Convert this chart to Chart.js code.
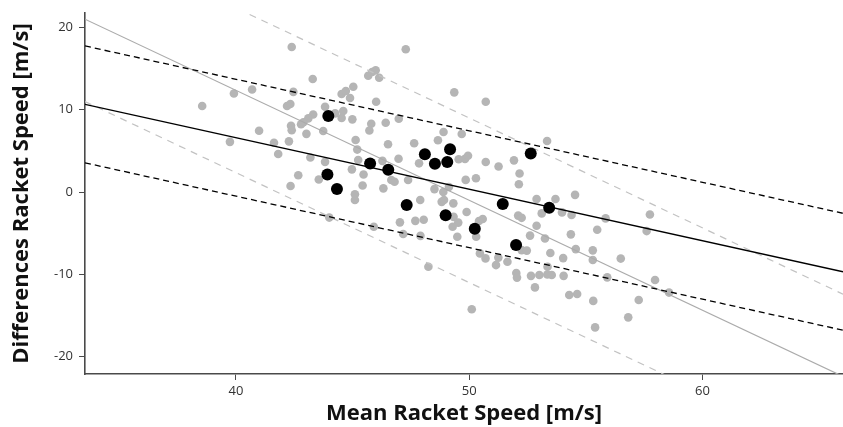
<!DOCTYPE html>
<html>
<head>
<meta charset="utf-8">
<script src="https://cdn.jsdelivr.net/npm/chart.js@4.4.1/dist/chart.umd.min.js"></script>
<style>
  html, body { margin: 0; padding: 0; background: #fff; }
  #c { display: block; }
</style>
</head>
<body>
<canvas id="c" width="843" height="427"></canvas>
<script>
// ---- data ----
const meanGray = [
  42.39,38.55,39.91,40.69,43.29,42.46,42.19,42.33,43.82,44.53,44.53,44.60,44.25,43.31,43.10,42.89,42.79,42.36,42.39,43.02,43.74,40.99,39.74,41.63,42.27,41.81,43.19,43.82,42.67,43.55,42.34,44.00,
  47.28,45.67,45.84,45.99,46.14,44.71,45.03,44.89,46.01,49.36,50.71,44.99,45.80,45.72,46.42,46.98,45.13,45.20,45.24,46.52,47.64,48.66,48.90,49.68,44.97,45.47,45.43,46.28,46.97,46.66,46.80,47.38,47.85,49.55,49.82,49.95,50.71,49.85,50.29,51.26,51.92,52.16,52.13,53.34,46.32,
  45.10,45.10,47.90,48.51,48.89,49.13,48.82,48.92,49.32,49.89,49.33,49.53,49.29,49.49,50.42,50.58,50.30,47.03,47.69,48.05,45.91,47.17,47.91,52.10,52.25,50.46,50.70,51.15,51.25,51.64,52.02,52.05,48.25,50.11,
  52.89,53.70,54.54,53.11,53.98,54.39,55.85,57.75,57.61,55.49,52.89,52.61,53.25,54.36,54.57,55.30,55.30,56.50,53.48,54.03,52.25,52.47,53.36,52.65,53.01,53.35,53.54,54.05,52.82,55.92,57.97,58.57,54.29,54.63,55.32,57.27,56.82,55.40
];
const diffGray = [
  17.62,10.45,11.97,12.45,13.73,12.17,10.45,10.69,10.36,11.91,8.99,9.84,9.56,9.42,8.95,8.47,8.23,8.04,7.50,7.07,7.41,7.44,6.10,5.99,6.16,4.62,4.19,3.67,2.04,1.52,0.73,-3.10,
  17.35,14.12,14.58,14.80,13.89,12.27,12.79,11.42,10.97,12.11,10.97,8.83,8.30,7.47,8.42,8.91,6.32,5.16,3.89,5.80,5.92,6.29,7.29,7.05,2.76,2.13,0.79,3.79,4.05,1.46,1.25,1.46,3.49,3.99,4.03,4.41,3.65,1.48,1.68,3.10,3.85,2.25,0.95,6.20,0.45,
  -0.28,-0.97,-0.97,0.36,0.00,0.61,-1.19,-0.97,-1.37,-2.43,-3.01,-3.71,-4.22,-5.43,-3.52,-3.28,-5.43,-3.68,-3.50,-3.37,-4.22,-5.10,-5.32,-2.86,-3.13,-7.45,-8.06,-8.87,-7.96,-8.47,-9.84,-10.39,-9.08,-14.24,
  -0.85,-0.85,-0.34,-2.59,-2.47,-2.79,-3.20,-2.73,-4.74,-4.57,-4.09,-5.29,-5.65,-5.14,-6.93,-7.08,-8.26,-8.08,-7.41,-8.02,-7.05,-7.11,-9.08,-10.18,-10.08,-10.02,-10.08,-10.18,-11.58,-10.36,-10.69,-12.21,-12.51,-12.39,-13.22,-13.12,-15.22,-16.44
];
const meanBlack = [43.96,43.92,44.33,45.75,46.53,48.10,48.53,49.06,49.18,47.32,48.99,50.24,52.01,51.44,52.64,53.43];
const diffBlack = [9.23,2.13,0.36,3.46,2.70,4.58,3.44,3.65,5.19,-1.58,-2.83,-4.46,-6.44,-1.46,4.68,-1.91];

// line end values at the left and right edge of the plot
const lineX        = [33.525, 66.03];
const fitMean      = [10.65, -9.68];
const fitUpper     = [17.75, -2.58];
const fitLower     = [3.55, -16.78];
const refMean      = [21.0, -22.4];
const refUpper     = [31.0, -12.4];
const refLower     = [11.0, -32.4];

const xTicks = [40, 50, 60];
const yTicks = [-20, -10, 0, 10, 20];
const xRange = [33.525, 66.03];
const yRange = [-22.1, 21.75];

// ---- build ----
const pts = (xs, ys) => xs.map((x, i) => ({x, y: ys[i]}));
const lineDs = (ys, color, width, dash) => ({
  type: 'line', data: pts(lineX, ys), borderColor: color, borderWidth: width,
  borderDash: dash, pointRadius: 0, fill: false, tension: 0, clip: 0, order: 1
});

const tickFont = {family: "'Open Sans', 'Noto Sans', sans-serif", size: 13};
const titleFont = {family: "'Open Sans', 'Noto Sans', sans-serif", size: 22, weight: 'bold'};
const axisColor = '#4a4a4a';

new Chart(document.getElementById('c'), {
  type: 'scatter',
  data: {
    datasets: [
      {data: pts(meanBlack, diffBlack), backgroundColor: '#000', borderWidth: 0, pointRadius: 6, order: 0},
      lineDs(fitMean, '#000', 1.3, []),
      lineDs(fitUpper, '#000', 1.3, [6, 4]),
      lineDs(fitLower, '#000', 1.3, [6, 4]),
      lineDs(refMean, '#ababab', 1.2, []),
      lineDs(refUpper, '#c2c2c2', 1.2, [7, 6]),
      lineDs(refLower, '#c2c2c2', 1.2, [7, 6]),
      {data: pts(meanGray, diffGray), backgroundColor: '#b5b5b5', borderWidth: 0, pointRadius: 4.3, order: 2}
    ]
  },
  options: {
    responsive: false,
    animation: false,
    events: [],
    layout: {autoPadding: false, padding: {top: 13, right: 0, bottom: 0, left: 0}},
    plugins: {legend: {display: false}, tooltip: {enabled: false}},
    scales: {
      x: {
        type: 'linear', min: xRange[0], max: xRange[1],
        afterBuildTicks: s => { s.ticks = xTicks.map(v => ({value: v})); },
        afterFit: s => { s.height = 53; s.paddingRight = 0; s.paddingLeft = 0; },
        grid: {display: true, drawOnChartArea: false, drawTicks: true, tickLength: 6, color: axisColor, lineWidth: 1},
        border: {display: true, color: axisColor, width: 1.6},
        ticks: {font: tickFont, color: '#333', padding: 3, maxRotation: 0},
        title: {display: true, text: 'Mean Racket Speed [m/s]', font: titleFont, color: '#111', padding: {top: 0, bottom: 0}}
      },
      y: {
        type: 'linear', min: yRange[0], max: yRange[1],
        afterBuildTicks: s => { s.ticks = yTicks.map(v => ({value: v})); },
        afterFit: s => { s.width = 85; s.paddingTop = 0; s.paddingBottom = 0; },
        grid: {display: true, drawOnChartArea: false, drawTicks: true, tickLength: 6, color: axisColor, lineWidth: 1},
        border: {display: true, color: axisColor, width: 1.6},
        ticks: {font: tickFont, color: '#333', padding: 6},
        title: {display: true, text: 'Differences Racket Speed [m/s]', font: titleFont, color: '#111', padding: {top: 9, bottom: 0}}
      }
    }
  }
});
</script>
</body>
</html>
